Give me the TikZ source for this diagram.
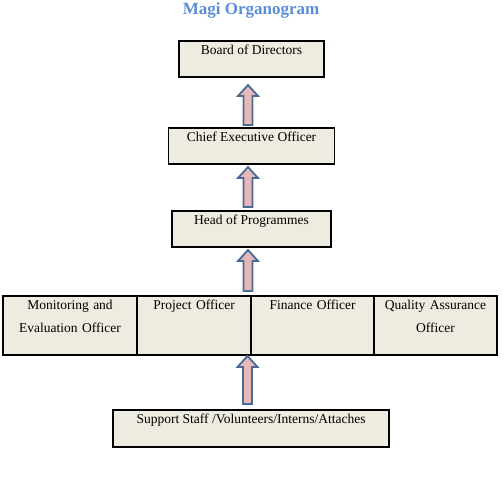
\documentclass[tikz,border=0pt]{standalone}
\usepackage{fontspec}
\setmainfont{Liberation Serif}
\usetikzlibrary{positioning,calc}
\definecolor{boxfill}{HTML}{EEEBE0}
\definecolor{titleblue}{HTML}{5B8ED6}
\definecolor{arrowfill}{HTML}{E6B9B8}
\definecolor{arrowline}{HTML}{4A6A96}
\tikzset{
  box/.style={draw, fill=boxfill, line width=1.1pt, inner sep=0pt, outer sep=0pt,
    font=\fontsize{13.5}{23}\selectfont, text height=13.5pt, text depth=#1},
  box/.default=22.5pt,
  cell/.style={box=45.5pt, text width=#1, align=center},
  blockarrow/.style={draw=arrowline, fill=arrowfill, line width=1.8pt, line join=miter}
}
% block arrow from the top of #1 up to the bottom of #2, with gaps #3 and #4
\newcommand{\promote}[4]{%
  \draw[blockarrow] let \p1=($(#1.north)+(-3.5pt,#3)$), \p2=($(#2.south)+(-3.5pt,-#4)$) in
    (\x1-4.5pt,\y1) -- (\x1+4.5pt,\y1) -- (\x1+4.5pt,\y2-11pt) -- (\x1+10pt,\y2-11pt)
    -- (\x1,\y2) -- (\x1-10pt,\y2-11pt) -- (\x1-4.5pt,\y2-11pt) -- cycle;}

\begin{document}
\begin{tikzpicture}[x=1pt,y=-1pt]
  \useasboundingbox (0,0) rectangle (504,486);
  \node[anchor=base, font=\fontsize{17}{20}\selectfont\bfseries, text=titleblue] (title) at (251,14.5) {Magi Organogram};

  \node[box, minimum width=145pt, anchor=north] (board) at (251.5,41) {Board of Directors};
  \node[box, minimum width=166pt, below=51pt of board] (ceo) {Chief Executive Officer};
  \node[box, minimum width=159pt, below=47pt of ceo] (head) {Head of Programmes};

  \node[cell=134pt, anchor=north west] (mon) at (3,296) {Monitoring and\\Evaluation Officer};
  \node[cell=114pt, right=0pt of mon] (proj) {Project Officer};
  \node[cell=123pt, right=0pt of proj] (fin) {Finance Officer};
  \node[cell=123pt, right=0pt of fin] (qa) {Quality Assurance\\Officer};

  \node[box=23.5pt, minimum width=276pt, anchor=north] (staff) at (251,410) {Support Staff /Volunteers/Interns/Attaches};

  \promote{ceo}{board}{3pt}{8pt}
  \promote{head}{ceo}{4pt}{3pt}
  \promote{mon.north -| head}{head}{5pt}{3pt}
  \promote{staff}{mon.south -| head}{6pt}{1pt}
\end{tikzpicture}
\end{document}
